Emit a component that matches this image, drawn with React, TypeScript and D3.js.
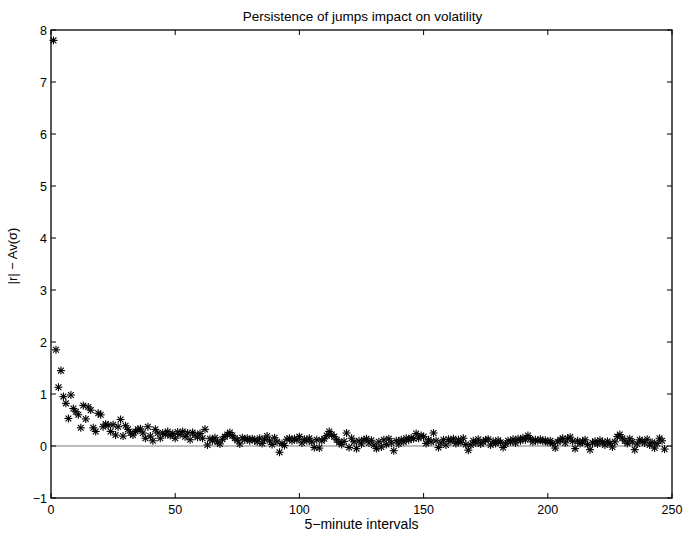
import React from "react";
import * as d3 from "d3";

const title = "Persistence of jumps impact on volatility";
const xLabel = "5−minute intervals";
const yLabel = "|r| − Av(σ)";
const xTicks = [0, 50, 100, 150, 200, 250];
const yTicks = [-1, 0, 1, 2, 3, 4, 5, 6, 7, 8];
const yTickLabels = ["−1", "0", "1", "2", "3", "4", "5", "6", "7", "8"];

const values = [
  7.80, 1.85, 1.13, 1.45, 0.95, 0.82, 0.53, 0.98, 0.72, 0.66,
  0.60, 0.35, 0.78, 0.52, 0.75, 0.69, 0.35, 0.28, 0.63, 0.60,
  0.37, 0.42, 0.40, 0.28, 0.41, 0.21, 0.37, 0.51, 0.19, 0.39,
  0.32, 0.25, 0.21, 0.28, 0.32, 0.33, 0.25, 0.15, 0.37, 0.19,
  0.10, 0.32, 0.25, 0.15, 0.25, 0.22, 0.28, 0.20, 0.24, 0.15,
  0.27, 0.22, 0.28, 0.18, 0.25, 0.12, 0.26, 0.21, 0.17, 0.24,
  0.15, 0.32, 0.02, 0.14, 0.10, 0.16, 0.08, 0.04, 0.13, 0.18,
  0.22, 0.26, 0.20, 0.15, 0.11, 0.04, 0.16, 0.12, 0.15, 0.10,
  0.14, 0.12, 0.08, 0.15, 0.05, 0.13, 0.19, 0.10, 0.03, 0.16,
  0.08, -0.12, 0.05, 0.01, 0.13, 0.15, 0.10, 0.14, 0.12, 0.18,
  0.06, 0.13, 0.10, 0.15, 0.08, -0.03, 0.12, -0.04, 0.10, 0.14,
  0.20, 0.28, 0.22, 0.18, 0.12, 0.07, 0.03, 0.09, 0.25, -0.03,
  0.15, 0.08, -0.05, 0.10, 0.04, 0.12, 0.14, 0.06, 0.11, 0.02,
  -0.05, 0.08, -0.02, 0.12, 0.03, 0.14, 0.06, -0.09, 0.10, 0.04,
  0.12, 0.08, 0.15, 0.11, 0.16, 0.14, 0.24, 0.15, 0.20, 0.18,
  0.05, 0.12, 0.08, 0.25, 0.10, -0.03, 0.06, 0.12, 0.02, 0.13,
  0.09, 0.14, 0.05, 0.12, 0.07, 0.15, 0.03, -0.08, 0.02, 0.10,
  0.06, 0.13, 0.04, 0.08, 0.12, 0.13, 0.02, 0.09, 0.05, 0.11,
  0.07, -0.03, 0.04, 0.10, 0.08, 0.13, 0.06, 0.14, 0.10, 0.16,
  0.12, 0.20, 0.14, 0.08, 0.12, 0.10, 0.13, 0.09, 0.11, 0.07,
  0.10, 0.05, -0.04, 0.08, 0.12, 0.15, 0.06, 0.14, 0.17, 0.09,
  -0.05, 0.10, 0.05, 0.08, 0.12, 0.03, -0.07, 0.06, 0.09, 0.04,
  0.11, 0.07, 0.02, 0.09, 0.05, -0.02, 0.08, 0.18, 0.22, 0.15,
  0.10, 0.05, 0.14, 0.08, -0.07, 0.04, 0.12, 0.09, 0.06, 0.13,
  0.02, 0.07, -0.04, 0.05, 0.15, 0.10, -0.06,
];

const W = 688;
const H = 537;
const M = { left: 51, right: 672, top: 30, bottom: 498 };
const FONT = "'Liberation Sans', Arial, Helvetica, sans-serif";

export default function App() {
  const x = d3.scaleLinear().domain([0, 250]).range([M.left, M.right]);
  const y = d3.scaleLinear().domain([-1, 8]).range([M.bottom, M.top]);
  const pts = values.map((v, i) => ({ x: i + 1, y: v }));
  const r = 4;
  const d = 2.9;
  const tl = 5;
  return (
    <svg
      width={W}
      height={H}
      style={{ position: "absolute", left: 0, top: 0, background: "#fff" }}
      fontFamily={FONT}
    >
      <rect x={0} y={0} width={W} height={H} fill="#fff" />
      <line x1={x(0)} x2={x(250)} y1={y(0)} y2={y(0)} stroke="#7a7a7a" strokeWidth={1.2} />
      {pts.map((p, i) => {
        const cx = x(p.x);
        const cy = y(p.y);
        return (
          <g key={i} stroke="#000" strokeWidth={1.1}>
            <line x1={cx - r} x2={cx + r} y1={cy} y2={cy} />
            <line x1={cx} x2={cx} y1={cy - r} y2={cy + r} />
            <line x1={cx - d} x2={cx + d} y1={cy - d} y2={cy + d} />
            <line x1={cx - d} x2={cx + d} y1={cy + d} y2={cy - d} />
          </g>
        );
      })}
      <rect
        x={M.left}
        y={M.top}
        width={M.right - M.left}
        height={M.bottom - M.top}
        fill="none"
        stroke="#000"
        strokeWidth={1.3}
      />
      {xTicks.map((t) => (
        <g key={"x" + t}>
          <line x1={x(t)} x2={x(t)} y1={M.bottom} y2={M.bottom - tl} stroke="#000" />
          <line x1={x(t)} x2={x(t)} y1={M.top} y2={M.top + tl} stroke="#000" />
          <text x={x(t)} y={M.bottom + 16} textAnchor="middle" fontSize={12.5}>
            {String(t)}
          </text>
        </g>
      ))}
      {yTicks.map((t, i) => (
        <g key={"y" + t}>
          <line x1={M.left} x2={M.left + tl} y1={y(t)} y2={y(t)} stroke="#000" />
          <line x1={M.right} x2={M.right - tl} y1={y(t)} y2={y(t)} stroke="#000" />
          <text x={M.left - 4} y={y(t) + 4.5} textAnchor="end" fontSize={12.5}>
            {yTickLabels[i]}
          </text>
        </g>
      ))}
      <text x={(M.left + M.right) / 2} y={M.bottom + 31} textAnchor="middle" fontSize={14}>
        {xLabel}
      </text>
      <text
        transform={`translate(17, ${(M.top + M.bottom) / 2 - 8}) rotate(-90)`}
        textAnchor="middle"
        fontSize={13}
      >
        {yLabel}
      </text>
      <text x={(M.left + M.right) / 2 + 1} y={M.top - 9} textAnchor="middle" fontSize={13.5}>
        {title}
      </text>
    </svg>
  );
}
